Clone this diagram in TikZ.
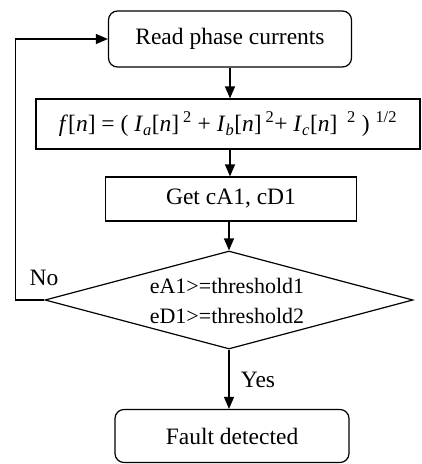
\documentclass[tikz,border=0pt]{standalone}
\usepackage{fontspec}
\setmainfont{Liberation Serif}
\usetikzlibrary{shapes.geometric,arrows.meta}
\newcommand{\iv}[1]{\textit{#1}}
\begin{document}
\begin{tikzpicture}[x=1pt,y=-1pt,line width=1.2pt,
	font=\fontsize{23.5}{28}\selectfont,
	rbox/.style={draw,rounded corners=9pt,inner sep=0pt},
	sbox/.style={draw,inner sep=0pt},
	decision/.style={draw,diamond,inner sep=0pt},
	flow/.style={-{Triangle[length=12pt,width=10pt]}}]
			\useasboundingbox (0,0) rectangle (422,464);
			
			\node[rbox,minimum width=243pt,minimum height=56pt] (read) at (230,39) {Read phase currents};
			\node[sbox,minimum width=384pt,minimum height=50pt] (rms) at (228,124)
				{\iv{f}[\iv{n}] = ( \iv{I}\textsubscript{\iv{a}}[\iv{n}]\,\textsuperscript{2} + \iv{I}\textsubscript{\iv{b}}[\iv{n}]\,\textsuperscript{2}+ \iv{I}\textsubscript{\iv{c}}[\iv{n}]~\,\textsuperscript{2} ) \textsuperscript{1/2}};
			\node[sbox,minimum width=251pt,minimum height=44pt] (coef) at (231,199) {Get cA1, cD1};
			\node[decision,minimum width=368pt,minimum height=98pt] (cond) at (229,300) {};
			\node[align=center,font=\fontsize{22}{30}\selectfont] (condtext) at (227,301) {eA1>=threshold1\\eD1>=threshold2};
			\node[rbox,minimum width=234pt,minimum height=53pt] (fault) at (232,436) {Fault detected};
			
			\draw[flow] (read.south -| 230,0) -- (rms.north -| 230,0);
			\draw[flow] (rms.south -| 230,0) -- (coef.north -| 230,0);
			\draw[flow] (coef.south -| 229,0) -- (cond.north);
			\draw[flow] (cond.south) -- (fault.north -| cond.south);
			\draw[flow] (cond.west) -- ++(-29,0) |- (read.west);
			
			\node (no) at (44,278) {No};
			\node (yes) at (258,380) {Yes};
		\end{tikzpicture}
\end{document}
